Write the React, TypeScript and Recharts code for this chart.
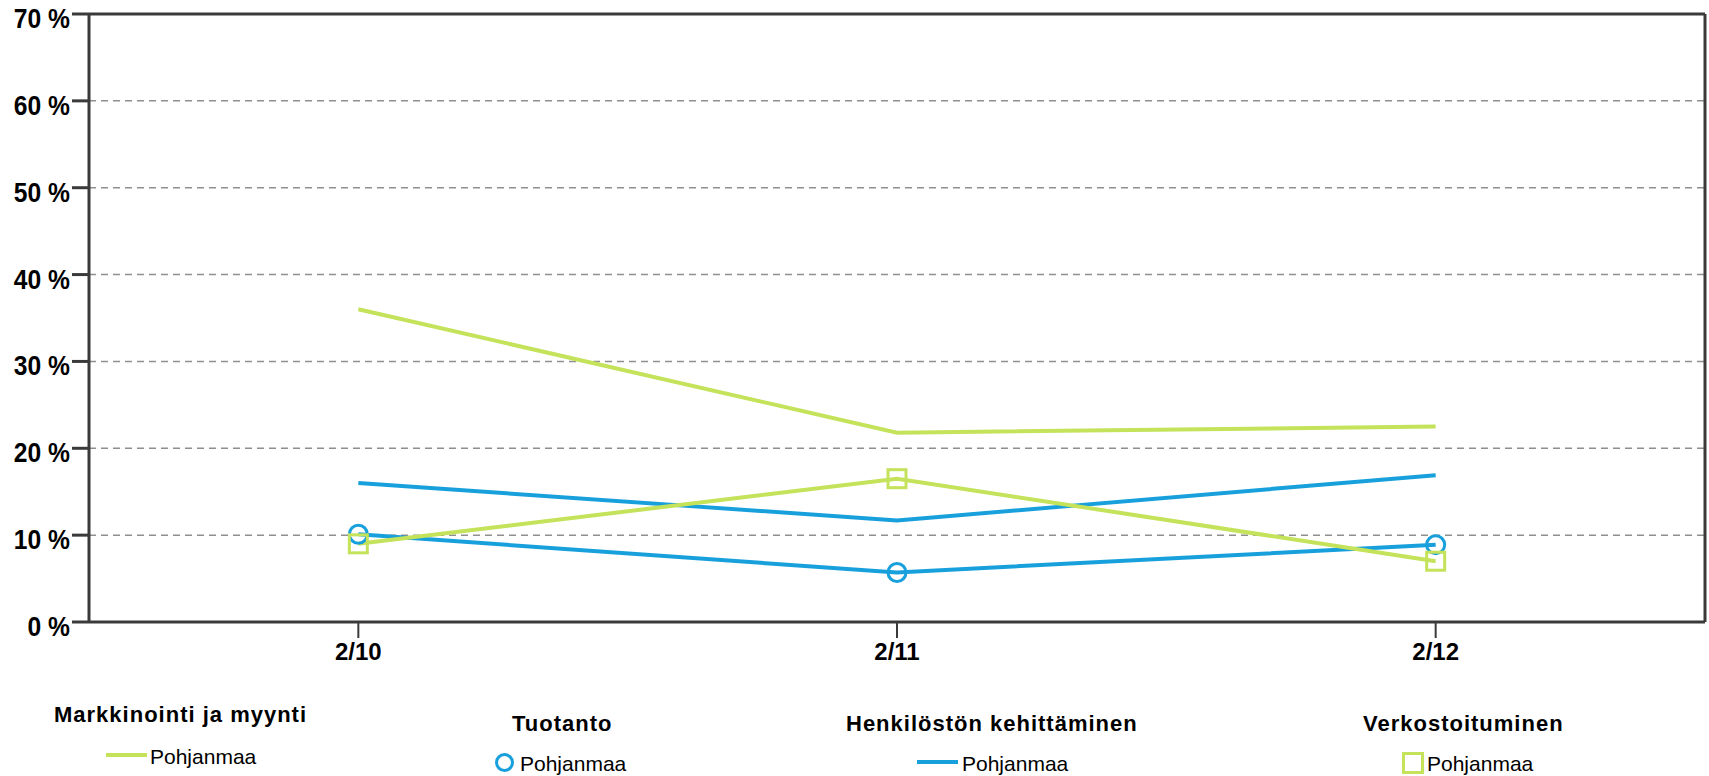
import React from "react";
import {
  LineChart,
  Line,
  XAxis,
  YAxis,
  CartesianGrid,
  ReferenceLine,
} from "recharts";

// Kategoriat (x-akseli)
const periods = ["2/10", "2/11", "2/12"];

// Sarjat (%), luettu kuvasta
const markkinointi = [36.0, 21.8, 22.5];
const tuotanto = [10.1, 5.7, 8.9];
const henkilosto = [16.0, 11.7, 16.9];
const verkostoituminen = [9.0, 16.5, 7.0];

const yTicks = [0, 10, 20, 30, 40, 50, 60, 70];

const GREEN = "#c4e25a";
const BLUE = "#18a0dc";
const DARK = "#3a3a3a";
const FONT = "'Liberation Sans', Arial, sans-serif";

const data = periods.map((p, i) => ({
  period: p,
  markkinointi: markkinointi[i],
  tuotanto: tuotanto[i],
  henkilosto: henkilosto[i],
  verkostoituminen: verkostoituminen[i],
}));

const SquareDot = (props: any) => {
  const { cx, cy, index } = props;
  if (cx == null || cy == null) return null;
  return (
    <rect
      key={`sq-${index}`}
      x={cx - 9}
      y={cy - 9}
      width={18}
      height={18}
      fill="none"
      stroke={GREEN}
      strokeWidth={3}
    />
  );
};

// kapeampi lihavoitu y-akselin teksti
const YTick = (props: any) => {
  const { x, y, payload } = props;
  return (
    <g transform={`translate(${x},${y})`}>
      <text
        x={0}
        y={0}
        dy="0.5em"
        textAnchor="end"
        transform="scale(0.88,1)"
        fontFamily={FONT}
        fontWeight={700}
        fontSize={28}
        fill="#000"
      >
        {`${payload.value} %`}
      </text>
    </g>
  );
};

const legendTitle: React.CSSProperties = {
  position: "absolute",
  fontFamily: FONT,
  fontWeight: 700,
  fontSize: 22,
  letterSpacing: 1,
  lineHeight: 1,
  transform: "translateY(-50%)",
  whiteSpace: "nowrap",
  color: "#000",
};

const legendText: React.CSSProperties = {
  position: "absolute",
  fontFamily: FONT,
  fontSize: 21,
  lineHeight: 1,
  transform: "translateY(-50%)",
  whiteSpace: "nowrap",
  color: "#000",
};

export default function App() {
  return (
    <div
      style={{
        position: "absolute",
        left: 0,
        top: 0,
        width: 1709,
        height: 776,
        background: "#fff",
      }}
    >
      <LineChart
        width={1709}
        height={776}
        data={data}
        margin={{ top: 14, right: 0, bottom: 114, left: 0 }}
      >
        <CartesianGrid
          vertical={false}
          stroke="#8f8f8f"
          strokeWidth={1.5}
          strokeDasharray="7 5"
        />
        <XAxis
          dataKey="period"
          scale="band"
          height={40}
          axisLine={{ stroke: DARK, strokeWidth: 3 }}
          tickLine={{ stroke: DARK, strokeWidth: 2 }}
          tickSize={16}
          tickMargin={5}
          tick={{ fontSize: 24, fontWeight: 700, fill: "#000", fontFamily: FONT }}
        />
        <YAxis
          domain={[0, 70]}
          ticks={yTicks}
          width={89}
          axisLine={{ stroke: DARK, strokeWidth: 3 }}
          tickLine={{ stroke: DARK, strokeWidth: 3 }}
          tickSize={17}
          tickMargin={2}
          tick={<YTick />}
        />
        <YAxis
          yAxisId="frame"
          orientation="right"
          width={4}
          tick={false}
          tickLine={false}
          axisLine={{ stroke: DARK, strokeWidth: 3 }}
        />
        <ReferenceLine y={70} stroke={DARK} strokeWidth={3} />
        <Line
          dataKey="markkinointi"
          stroke={GREEN}
          strokeWidth={4}
          dot={false}
          isAnimationActive={false}
        />
        <Line
          dataKey="henkilosto"
          stroke={BLUE}
          strokeWidth={4}
          dot={false}
          isAnimationActive={false}
        />
        <Line
          dataKey="tuotanto"
          stroke={BLUE}
          strokeWidth={4}
          dot={{ r: 9, fill: "none", stroke: BLUE, strokeWidth: 3 }}
          isAnimationActive={false}
        />
        <Line
          dataKey="verkostoituminen"
          stroke={GREEN}
          strokeWidth={4}
          dot={SquareDot}
          isAnimationActive={false}
        />
      </LineChart>

      {/* Selite */}
      <div style={{ ...legendTitle, left: 54, top: 715 }}>Markkinointi ja myynti</div>
      <div
        style={{
          position: "absolute",
          left: 106,
          top: 753,
          width: 41,
          height: 4,
          background: GREEN,
        }}
      />
      <div style={{ ...legendText, left: 150, top: 756 }}>Pohjanmaa</div>

      <div style={{ ...legendTitle, left: 512, top: 724 }}>Tuotanto</div>
      <div
        style={{
          position: "absolute",
          left: 495,
          top: 753,
          width: 13,
          height: 13,
          border: `3px solid ${BLUE}`,
          borderRadius: "50%",
        }}
      />
      <div style={{ ...legendText, left: 520, top: 763 }}>Pohjanmaa</div>

      <div style={{ ...legendTitle, left: 846, top: 724 }}>Henkilöstön kehittäminen</div>
      <div
        style={{
          position: "absolute",
          left: 917,
          top: 760,
          width: 41,
          height: 4,
          background: BLUE,
        }}
      />
      <div style={{ ...legendText, left: 962, top: 763 }}>Pohjanmaa</div>

      <div style={{ ...legendTitle, left: 1363, top: 724 }}>Verkostoituminen</div>
      <div
        style={{
          position: "absolute",
          left: 1402,
          top: 752,
          width: 16,
          height: 16,
          border: `3px solid ${GREEN}`,
        }}
      />
      <div style={{ ...legendText, left: 1427, top: 763 }}>Pohjanmaa</div>
    </div>
  );
}
